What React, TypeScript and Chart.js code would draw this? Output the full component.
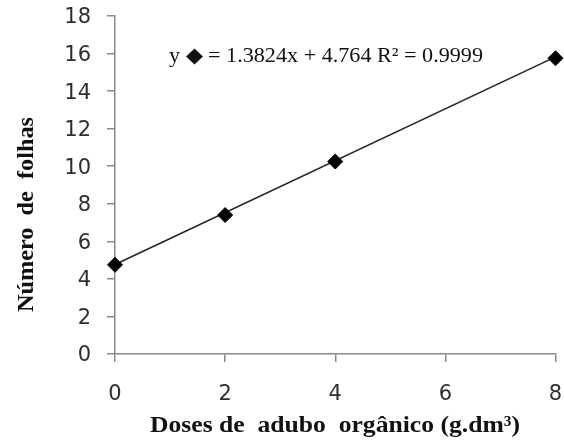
import React, { useEffect, useRef } from "react";
import { Chart, registerables } from "chart.js";

Chart.register(...registerables);

// Observed data (dose of organic fertilizer vs. number of leaves)
const doses: number[] = [0, 2, 4, 8];
const leaves: number[] = [4.75, 7.4, 10.25, 15.75];

// Linear trend line endpoints as shown by the fitted equation
const trendX: number[] = [0, 8];
const trendY: number[] = [4.764, 15.823];

// Axis ranges / ticks
const xTicks: number[] = [0, 2, 4, 6, 8];
const yMin = 0;
const yMax = 18;
const yStep = 2;

const equationText = "y \u25C6 = 1.3824x + 4.764 R\u00B2 = 0.9999";
const yTitle = "N\u00FAmero  de  folhas";
const xTitle = "Doses de  adubo  org\u00E2nico (g.dm\u00B3)";

function drawFitted(
  ctx: CanvasRenderingContext2D,
  text: string,
  x: number,
  y: number,
  width: number,
  font: string
) {
  ctx.save();
  ctx.font = font;
  const w = ctx.measureText(text).width;
  ctx.translate(x, y);
  ctx.scale(width / w, 1);
  ctx.textAlign = "left";
  ctx.textBaseline = "alphabetic";
  ctx.fillText(text, 0, 0);
  ctx.restore();
}

const textPlugin = {
  id: "extraTexts",
  afterDraw(chart: any) {
    const ctx: CanvasRenderingContext2D = chart.ctx;
    ctx.save();
    ctx.fillStyle = "#111";
    // regression equation
    drawFitted(ctx, equationText, 169, 62, 314, '21px "Liberation Serif"');
    // y axis title (rotated)
    ctx.save();
    ctx.translate(33, 312);
    ctx.rotate(-Math.PI / 2);
    drawFitted(ctx, yTitle, 0, 0, 195, 'bold 23px "Liberation Serif"');
    ctx.restore();
    // x axis title
    drawFitted(ctx, xTitle, 150, 432, 370, 'bold 23px "Liberation Serif"');
    ctx.restore();
  },
};

export default function App() {
  const ref = useRef<HTMLCanvasElement>(null);

  useEffect(() => {
    if (!ref.current) return;
    const axisColor = "#8a8a8a";
    const chart = new Chart(ref.current, {
      type: "scatter",
      data: {
        datasets: [
          {
            label: "Número de folhas",
            data: doses.map((d, i) => ({ x: d, y: leaves[i] })),
            pointStyle: "rectRot",
            pointRadius: 7.5,
            backgroundColor: "#000",
            borderColor: "#000",
            borderWidth: 1,
            showLine: false,
            clip: false,
            order: 0,
          },
          {
            label: "Linear",
            data: trendX.map((d, i) => ({ x: d, y: trendY[i] })),
            showLine: true,
            borderColor: "#222",
            borderWidth: 1.5,
            pointRadius: 0,
            clip: false,
            order: 1,
          },
        ],
      },
      options: {
        responsive: false,
        animation: false,
        events: [],
        layout: { padding: { left: 0, right: 7, top: 16, bottom: 10 } },
        plugins: {
          legend: { display: false },
          tooltip: { enabled: false },
        },
        scales: {
          x: {
            type: "linear",
            min: 0,
            max: 8,
            afterBuildTicks: (scale: any) => {
              scale.ticks = xTicks.map((v) => ({ value: v }));
            },
            afterFit: (scale: any) => {
              scale.height = 79;
              scale.paddingLeft = 0;
              scale.paddingRight = 0;
            },
            grid: {
              display: true,
              drawOnChartArea: false,
              drawTicks: true,
              tickLength: 8,
              color: axisColor,
              lineWidth: 1.5,
            },
            border: { display: true, color: axisColor, width: 1.5 },
            ticks: {
              padding: 20,
              color: "#2e2e2e",
              font: { family: "DejaVu Sans", size: 21 },
            },
          },
          y: {
            type: "linear",
            min: yMin,
            max: yMax,
            ticks: {
              stepSize: yStep,
              padding: 16,
              labelOffset: 2,
              color: "#2e2e2e",
              font: { family: "DejaVu Sans", size: 21 },
            },
            afterFit: (scale: any) => {
              scale.width = 115;
              scale.paddingTop = 0;
              scale.paddingBottom = 0;
            },
            grid: {
              display: true,
              drawOnChartArea: false,
              drawTicks: true,
              tickLength: 8,
              color: axisColor,
              lineWidth: 1.5,
            },
            border: { display: true, color: axisColor, width: 1.5 },
          },
        },
      },
      plugins: [textPlugin],
    });
    return () => chart.destroy();
  }, []);

  return (
    <div style={{ position: "fixed", left: 0, top: 0, width: 564, height: 443, background: "#fff" }}>
      <canvas ref={ref} width={564} height={443} />
    </div>
  );
}
